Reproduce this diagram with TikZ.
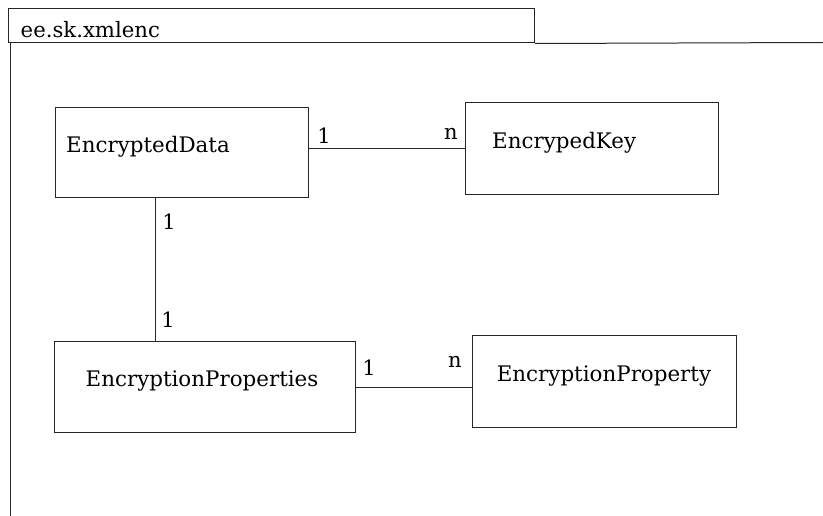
\documentclass[tikz,border=0pt]{standalone}
\usepackage{fontspec}
\setmainfont{DejaVu Serif}
\newfontfamily\tabfont{DejaVu Serif}
\begin{document}
\begin{tikzpicture}[x=1pt,y=-1pt,
  box/.style={draw=black!85,line width=1pt,inner sep=0pt,anchor=north west},
  lbl/.style={inner sep=0pt,font=\fontsize{21.4}{25}\selectfont},
  mult/.style={inner sep=0pt,font=\fontsize{21}{25}\selectfont},
  conn/.style={draw=black!85,line width=1pt}]
\useasboundingbox[fill=white] (0,0) rectangle (823,516);
% package tab and frame
\node[box,minimum width=526pt,minimum height=34.5pt] (tab) at (8,8) {};
\node[inner sep=0pt,anchor=base west,font=\tabfont\fontsize{21.2}{25}\selectfont] (tabtxt) at (20.5,37.3) {ee.sk.xmlenc};
\coordinate (frtl) at (10,42.5);
\coordinate (frtr) at (823,42.5);
\coordinate (frbl) at (10,516);
\draw[conn] (tab.south east) -- (frtr);
\draw[conn] (frtl) -- (frbl);
% classes
\node[box,minimum width=253pt,minimum height=90pt] (ed) at (55,107) {};
\node[lbl,anchor=west] (edt) at (66,147) {EncryptedData};
\node[box,minimum width=253pt,minimum height=92pt] (ek) at (465,102) {};
\node[lbl,anchor=west] (ekt) at (492,143) {EncrypedKey};
\node[box,minimum width=301pt,minimum height=91pt] (ep) at (54,341) {};
\node[lbl] (ept) at (202,381) {EncryptionProperties};
\node[box,minimum width=264pt,minimum height=92pt] (epy) at (472,335) {};
\node[lbl] (epyt) at (604,376) {EncryptionProperty};
% connectors
\coordinate (edb) at (155,197);
\draw[conn] (ek.west) -- (ek.west -| ed.east);
\draw[conn] (edb) -- (edb |- ep.north);
\draw[conn] (ep.east) -- (ep.east -| epy.west);
% multiplicities
\node[mult] (m1) at (324,136) {1};
\node[mult] (m2) at (451,134) {n};
\node[mult] (m3) at (169,222) {1};
\node[mult] (m4) at (168,320) {1};
\node[mult] (m5) at (369,368) {1};
\node[mult] (m6) at (455,362) {n};
\end{tikzpicture}
\end{document}
